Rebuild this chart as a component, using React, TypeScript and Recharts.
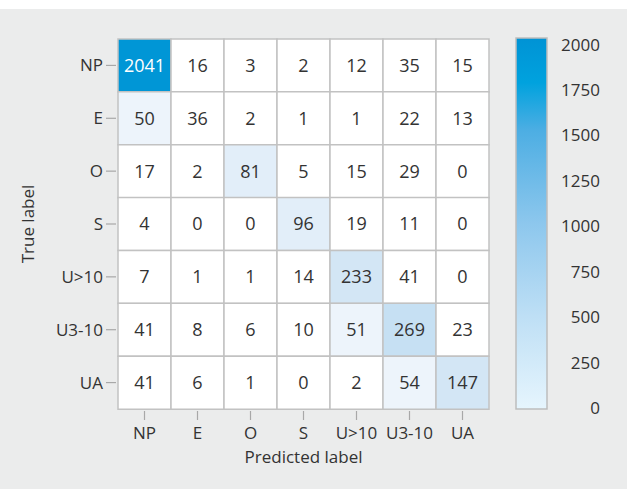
import React from "react";
import {
  Bar,
  BarChart,
  Cell,
  LabelList,
  XAxis,
  YAxis,
} from "recharts";

const labels = ["NP", "E", "O", "S", "U>10", "U3-10", "UA"];

const counts = [
  [2041, 16, 3, 2, 12, 35, 15],
  [50, 36, 2, 1, 1, 22, 13],
  [17, 2, 81, 5, 15, 29, 0],
  [4, 0, 0, 96, 19, 11, 0],
  [7, 1, 1, 14, 233, 41, 0],
  [41, 8, 6, 10, 51, 269, 23],
  [41, 6, 1, 0, 2, 54, 147],
];

const colorbarTicks = [0, 250, 500, 750, 1000, 1250, 1500, 1750, 2000];
const colorbarMax = 2041;

const FONT = "'Open Sans', sans-serif";
const TEXT = "#333333";
const GRID = "#C2C2C2";

// cell tint, picked from the figure
const tint = (v: number) => {
  if (v >= 1000) return "#0096D6";
  if (v >= 250) return "#C6E0F3";
  if (v >= 140) return "#D3E6F5";
  if (v >= 75) return "#E2EEF9";
  if (v >= 45) return "#EDF4FB";
  return "#FFFFFF";
};

const rows = labels.map((row, i) => {
  const r: Record<string, string | number> = { row };
  counts[i].forEach((v, j) => {
    r[`c${j}`] = 1;
    r[`v${j}`] = v;
  });
  return r;
});

const cols = labels.map((_, j) => j);

const RowTick = (props: any) => {
  const { x, y, payload } = props;
  return (
    <g>
      <line x1={x - 12} x2={x - 2} y1={y} y2={y} stroke="#A8A8A8" strokeWidth={1.2} />
      <text x={x - 15} y={y} dy="0.355em" textAnchor="end" fill={TEXT} fontSize={17} fontFamily={FONT}>
        {payload.value}
      </text>
    </g>
  );
};

const ColTick = (props: any) => {
  const { x, y, payload } = props;
  return (
    <g>
      <line x1={x} x2={x} y1={y + 2} y2={y + 11} stroke="#A8A8A8" strokeWidth={1.2} />
      <text x={x} y={y + 24} dy="0.355em" textAnchor="middle" fill={TEXT} fontSize={17} fontFamily={FONT}>
        {labels[Math.floor(payload.value)]}
      </text>
    </g>
  );
};

const BarTick = (props: any) => {
  const { x, y, payload } = props;
  return (
    <text x={x + 53} y={y} dy="0.3em" textAnchor="end" fill={TEXT} fontSize={17} fontFamily={FONT}>
      {payload.value}
    </text>
  );
};

const CellLabel = (props: any) => {
  const { x, y, width, height, value } = props;
  return (
    <text
      x={x + width / 2}
      y={y + height / 2}
      dy="0.355em"
      textAnchor="middle"
      fill={value >= 1000 ? "#FFFFFF" : TEXT}
      fontSize={18}
      fontFamily={FONT}
    >
      {value}
    </text>
  );
};

export default function App() {
  return (
    <div style={{ position: "fixed", left: 0, top: 0, width: 627, height: 489, background: "#FFFFFF" }}>
      <div style={{ position: "absolute", left: 0, top: 9, width: 627, height: 480, background: "#EBECEC" }} />

      <div style={{ position: "absolute", left: 0, top: 0 }}>
        <BarChart
          width={500}
          height={489}
          data={rows}
          layout="vertical"
          barCategoryGap={0}
          margin={{ top: 39, right: 11, bottom: 24, left: 8 }}
        >
          <XAxis
            type="number"
            domain={[0, 7]}
            ticks={[0.5, 1.5, 2.5, 3.5, 4.5, 5.5, 6.5]}
            tick={<ColTick />}
            tickSize={0}
            tickMargin={0}
            axisLine={false}
            tickLine={false}
            height={56}
            label={{
              value: "Predicted label",
              position: "insideBottom",
              offset: 2,
              fill: TEXT,
              fontSize: 17,
              fontFamily: FONT,
            }}
          />
          <YAxis
            type="category"
            dataKey="row"
            width={110}
            tick={<RowTick />}
            tickSize={0}
            tickMargin={0}
            axisLine={false}
            tickLine={false}
            label={{
              value: "True label",
              angle: -90,
              position: "insideLeft",
              offset: 20,
              fill: TEXT,
              fontSize: 17,
              fontFamily: FONT,
              style: { textAnchor: "middle" },
            }}
          />
          {cols.map((j) => (
            <Bar
              key={j}
              dataKey={`c${j}`}
              stackId="m"
              stroke={GRID}
              strokeWidth={1.5}
              isAnimationActive={false}
            >
              {counts.map((r, i) => (
                <Cell key={i} fill={tint(r[j])} />
              ))}
              <LabelList dataKey={`v${j}`} content={<CellLabel />} />
            </Bar>
          ))}
        </BarChart>
      </div>

      <div style={{ position: "absolute", left: 480, top: 0 }}>
        <BarChart
          width={147}
          height={489}
          data={[{ name: "scale", v: colorbarMax }]}
          barCategoryGap={0}
          margin={{ top: 38, right: 20, bottom: 80, left: 36 }}
        >
          <defs>
            <linearGradient id="cbar" x1="0" y1="0" x2="0" y2="1">
              <stop offset="0" stopColor="#0093D5" />
              <stop offset="0.12" stopColor="#00A2DE" />
              <stop offset="0.25" stopColor="#4DAEE3" />
              <stop offset="0.5" stopColor="#8DC7ED" />
              <stop offset="0.75" stopColor="#BEDFF5" />
              <stop offset="1" stopColor="#E6F5FD" />
            </linearGradient>
          </defs>
          <XAxis dataKey="name" hide />
          <YAxis
            orientation="right"
            type="number"
            domain={[0, colorbarMax]}
            ticks={colorbarTicks}
            tick={<BarTick />}
            tickSize={0}
            tickMargin={0}
            axisLine={false}
            tickLine={false}
            width={60}
            interval={0}
          />
          <Bar dataKey="v" fill="url(#cbar)" stroke="#BDBDBD" strokeWidth={1.5} isAnimationActive={false} />
        </BarChart>
      </div>
    </div>
  );
}
